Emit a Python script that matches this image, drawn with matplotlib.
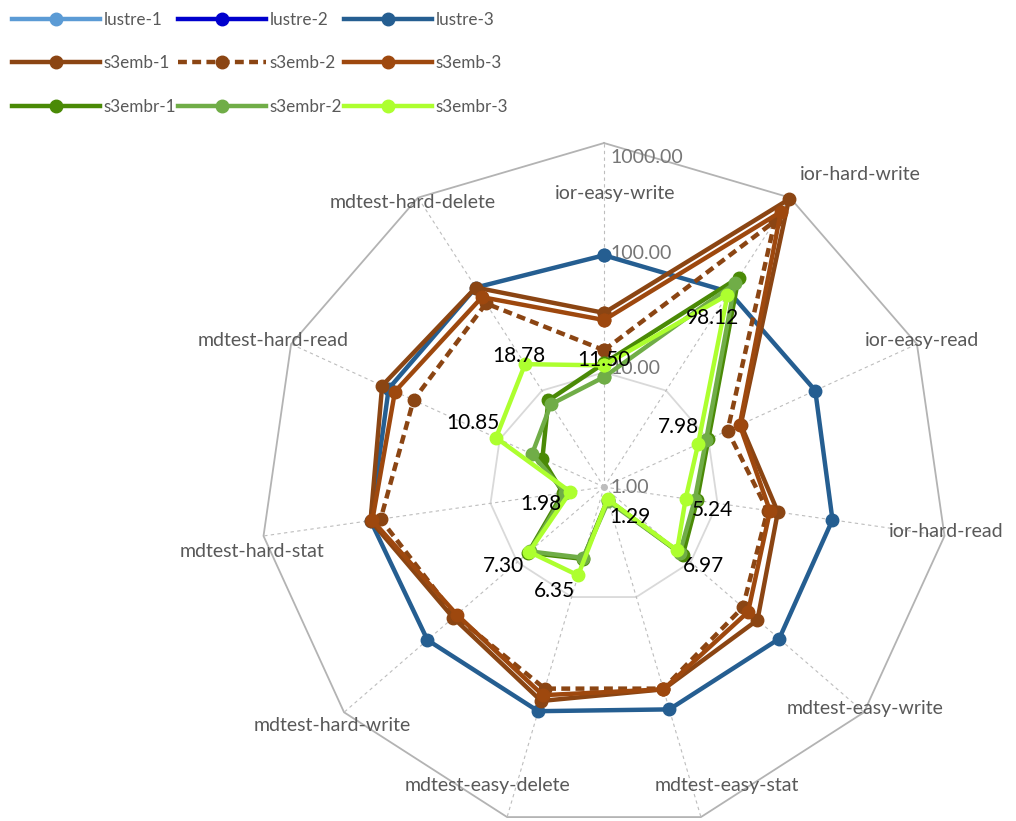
import numpy as np
import matplotlib
matplotlib.use("Agg")
import matplotlib.pyplot as plt
from matplotlib.ticker import NullLocator

plt.rcParams['font.family'] = ['Lato', 'DejaVu Sans']

# Benchmark phases, clockwise from the top
categories = ['ior-easy-write', 'ior-hard-write', 'ior-easy-read', 'ior-hard-read',
              'mdtest-easy-write', 'mdtest-easy-stat', 'mdtest-easy-delete',
              'mdtest-hard-write', 'mdtest-hard-stat', 'mdtest-hard-read',
              'mdtest-hard-delete']

# Scores per run (log radial scale)
lustre_1 = [np.nan] * 11
lustre_2 = [np.nan] * 11
lustre_3 = [105, 105, 106, 103, 105, 105, 109, 109, 114, 116, 117]
s3emb_1 = [33, 960, 20.5, 34, 59, 69, 88, 55, 114, 134, 117]
s3emb_2 = [15.6, 570, 15.3, 27.6, 40, 68, 68, 52, 93, 67, 80]
s3emb_3 = [28.6, 710, 20, 29, 46, 69, 78, 50, 110, 101, 93]
s3embr_1 = [12, 148, 10, 6.6, 8.1, 1.3, 4.5, 7.5, 2.3, 3.9, 7.9]
s3embr_2 = [9.1, 129, 9.5, 6.3, 7.5, 1.35, 4.4, 7.2, 2.2, 4.9, 7.2]
s3embr_3 = [11.50, 98.12, 7.98, 5.24, 6.97, 1.29, 6.35, 7.30, 1.98, 10.85, 18.78]

series_names = ['lustre-1', 'lustre-2', 'lustre-3', 's3emb-1', 's3emb-2', 's3emb-3',
                's3embr-1', 's3embr-2', 's3embr-3']
series_values = [lustre_1, lustre_2, lustre_3, s3emb_1, s3emb_2, s3emb_3,
                 s3embr_1, s3embr_2, s3embr_3]
series_colors = ['#5b9bd5', '#0000cd', '#255e91', '#8b4513', '#8b4513', '#9e480e',
                 '#4a8a06', '#70ad47', '#adff2f']
series_styles = ['-', '-', '-', '-', (0, (2, 1.2)), '-', '-', '-', '-']

tick_values = [1, 10, 100, 1000]
tick_labels = ['1.00', '10.00', '100.00', '1000.00']

fig = plt.figure(figsize=(10.16, 8.21), dpi=100)
ax = fig.add_axes([0.2559, -0.0122, 0.6772, 0.838], projection='polar')
ax.set_facecolor('none')
ax.set_theta_zero_location('N')
ax.set_theta_direction(-1)
ax.set_rscale('log')
ax.set_rlim(1, 1000)

theta = np.arange(len(categories)) * 2 * np.pi / len(categories)
theta_closed = np.r_[theta, theta[0]]

# spokes
ax.set_xticks(theta)
ax.set_xticklabels([])
ax.xaxis.grid(True, color='#bdbdbd', linestyle=(0, (3, 3)), linewidth=0.8)
ax.yaxis.set_major_locator(NullLocator())
ax.yaxis.set_minor_locator(NullLocator())
ax.yaxis.grid(False)
ax.spines['polar'].set_visible(False)

# polygon rings
ax.plot(theta_closed, [10] * (len(theta) + 1), color='#d9d9d9', lw=1.3, zorder=1)
ax.plot(theta_closed, [1000] * (len(theta) + 1), color='#b3b3b3', lw=1.3, zorder=1,
        clip_on=False)
ax.plot([0], [1], 'o', color='#c0c0c0', ms=4, zorder=1)

# radial tick labels along the top spoke
tick_offsets = [0, 4, 4, -14]
for v, lab, off in zip(tick_values, tick_labels, tick_offsets):
    ax.annotate(lab, xy=(0, v), xytext=(6, off), textcoords='offset pixels',
                ha='left', va='center', fontsize=14, color='#767676', zorder=2)

# category labels around the outer ring
label_offsets = [(11, -50), (70, 23), (5, 4), (2, 4), (1, 4), (26, 32), (-20, 32),
                 (-12, -13), (-12, -16), (-18, 4), (-5, -5)]
for t, name, off in zip(theta, categories, label_offsets):
    ax.annotate(name, xy=(t, 1000), xytext=off, textcoords='offset pixels',
                ha='center', va='center', fontsize=14, color='#595959',
                annotation_clip=False, zorder=2)

handles = []
for name, vals, col, ls in zip(series_names, series_values, series_colors, series_styles):
    v = np.r_[vals, vals[0]]
    h, = ax.plot(theta_closed, v, color=col, lw=3.2, linestyle=ls, marker='o', ms=9,
                 label=name, clip_on=False, solid_joinstyle='round', zorder=3)
    handles.append(h)

# value labels for s3embr-3
value_offsets = [(0, -5), (-15, 23), (-20, -17), (27, 11), (26, 16), (22, 18),
                 (-24, 16), (-26, 14), (-30, 12), (-23, -15), (-6, -8)]
for t, v, off in zip(theta, s3embr_3, value_offsets):
    ax.annotate(f'{v:.2f}', xy=(t, v), xytext=(off[0], -off[1]), textcoords='offset pixels',
                ha='center', va='center', fontsize=15, color='black', zorder=5)

order = [0, 3, 6, 1, 4, 7, 2, 5, 8]
fig.legend([handles[i] for i in order], [series_names[i] for i in order],
           loc='upper left', bbox_to_anchor=(12 / 1016, 1 - 12 / 821), ncol=3,
           frameon=False, fontsize=12.3, labelcolor='#595959', handlelength=5.15,
           handletextpad=0.22, columnspacing=0.1, labelspacing=1.6,
           borderpad=0, borderaxespad=0)

fig.savefig('out.png', dpi=100)
